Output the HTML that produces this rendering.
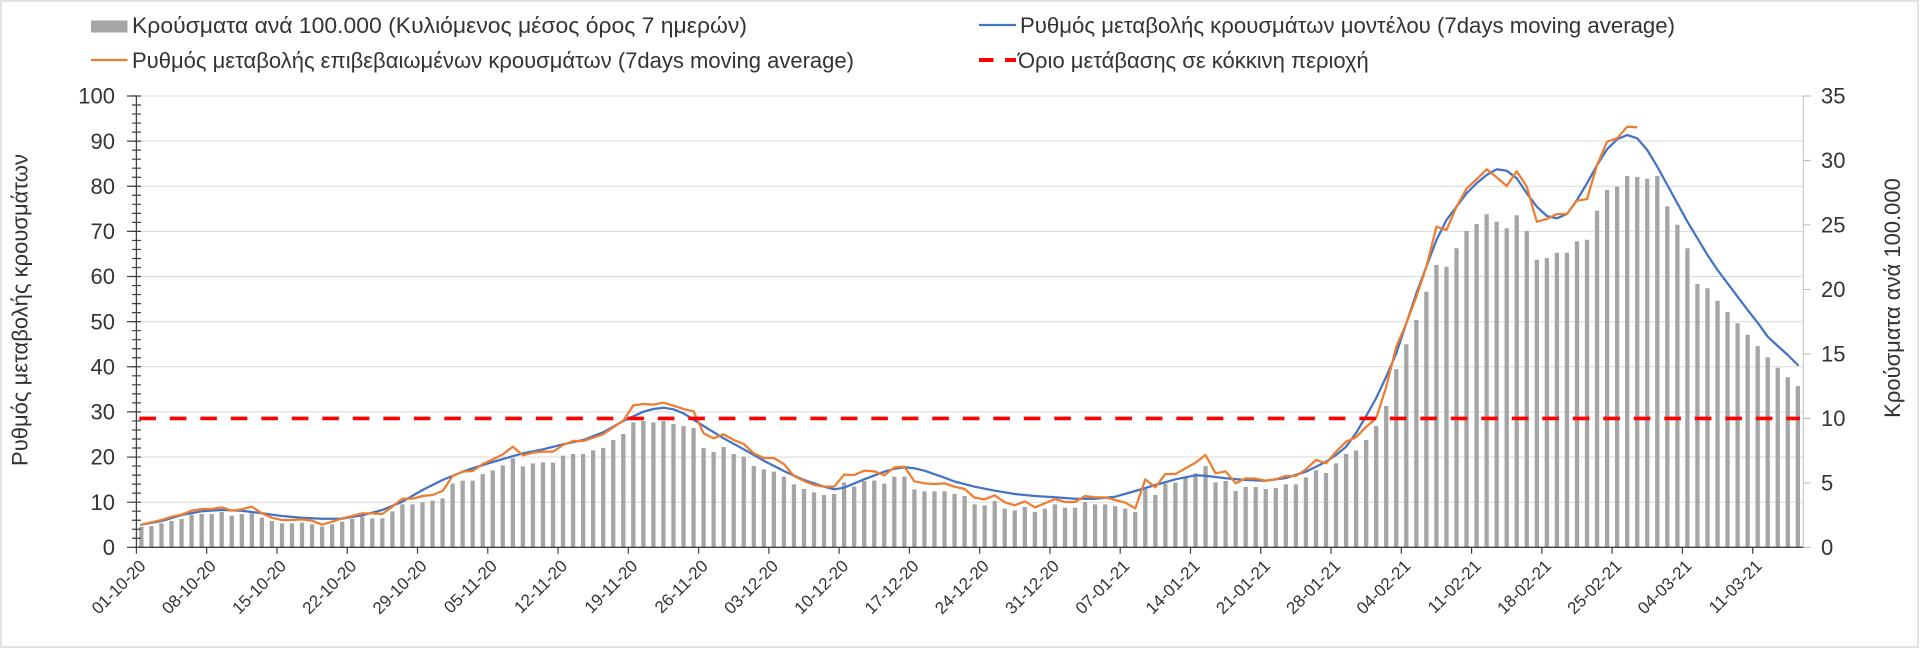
<!DOCTYPE html>
<html>
<head>
<meta charset="utf-8">
<style>
  html,body{margin:0;padding:0;background:#fff;}
  body{width:1920px;height:649px;overflow:hidden;}
  svg{display:block;}
  text{font-family:"Liberation Sans","DejaVu Sans",sans-serif;fill:#333;}
</style>
</head>
<body>
<svg width="1920" height="649" viewBox="0 0 1920 649" xmlns="http://www.w3.org/2000/svg">
  <rect x="0" y="0" width="1920" height="649" fill="#fff"/>
  <rect x="1" y="1" width="1917" height="646" fill="none" stroke="#d9d9d9" stroke-width="1.5"/>

  <!-- Legend -->
  <rect x="91" y="20.5" width="36.5" height="12" fill="#a5a5a5"/>
  <text x="132" y="33" font-size="22" textLength="615" lengthAdjust="spacingAndGlyphs">Κρούσματα ανά 100.000 (Κυλιόμενος μέσος όρος 7 ημερών)</text>
  <line x1="91" y1="60" x2="127.5" y2="60" stroke="#ed7d31" stroke-width="2.25"/>
  <text x="132" y="68" font-size="22" textLength="722" lengthAdjust="spacingAndGlyphs">Ρυθμός μεταβολής επιβεβαιωμένων κρουσμάτων (7days moving average)</text>
  <line x1="979" y1="25" x2="1016" y2="25" stroke="#4472c4" stroke-width="2.25"/>
  <text x="1020" y="33" font-size="22" textLength="655" lengthAdjust="spacingAndGlyphs">Ρυθμός μεταβολής κρουσμάτων μοντέλου (7days moving average)</text>
  <line x1="979" y1="60" x2="993.5" y2="60" stroke="#ff0000" stroke-width="4"/>
  <line x1="1005" y1="60" x2="1016" y2="60" stroke="#ff0000" stroke-width="4"/>
  <text x="1018" y="68" font-size="22">Όριο μετάβασης σε κόκκινη περιοχή</text>

  <!-- Gridlines -->
  <path d="M136.4 96H1803.3M136.4 141.1H1803.3M136.4 186.3H1803.3M136.4 231.4H1803.3M136.4 276.5H1803.3M136.4 321.7H1803.3M136.4 366.8H1803.3M136.4 411.9H1803.3M136.4 457H1803.3M136.4 502.2H1803.3" stroke="#d9d9d9" stroke-width="1" fill="none"/>

  <!-- Bars (zoom-A coordinate space) -->
  <g transform="translate(141.4,390) scale(10.039,0.333333)">
    <path fill="none" stroke="#a5a5a5" stroke-width="4.3" vector-effect="non-scaling-stroke" d="M0 471.9V410M1 471.9V408M2 471.9V400M3 471.9V393M4 471.9V387M5 471.9V374M6 471.9V372M7 471.9V372M8 471.9V366M9 471.9V377M10 471.9V372M11 471.9V370M12 471.9V383M13 471.9V393M14 471.9V400M15 471.9V400M16 471.9V398M17 471.9V403M18 471.9V410M19 471.9V403M20 471.9V395M21 471.9V387M22 471.9V380M23 471.9V385M24 471.9V385M25 471.9V364M26 471.9V343M27 471.9V343M28 471.9V337M29 471.9V332M30 471.9V325M31 471.9V281M32 471.9V272M33 471.9V272M34 471.9V252M35 471.9V241M36 471.9V226M37 471.9V205M38 471.9V229M39 471.9V220M40 471.9V217M41 471.9V218M42 471.9V197M43 471.9V192M44 471.9V192M45 471.9V181M46 471.9V174M47 471.9V150M48 471.9V132M49 471.9V97M50 471.9V93M51 471.9V97M52 471.9V93M53 471.9V102M54 471.9V108M55 471.9V114M56 471.9V174M57 471.9V186M58 471.9V171M59 471.9V192M60 471.9V200M61 471.9V228M62 471.9V238M63 471.9V245M64 471.9V260M65 471.9V283M66 471.9V297M67 471.9V307M68 471.9V315M69 471.9V312M70 471.9V277M71 471.9V290M72 471.9V273M73 471.9V272M74 471.9V281M75 471.9V260M76 471.9V260M77 471.9V298M78 471.9V304M79 471.9V304M80 471.9V304M81 471.9V312M82 471.9V318M83 471.9V343M84 471.9V346M85 471.9V333M86 471.9V356M87 471.9V361M88 471.9V351M89 471.9V366M90 471.9V356M91 471.9V343M92 471.9V353M93 471.9V353M94 471.9V336M95 471.9V343M96 471.9V343M97 471.9V348M98 471.9V356M99 471.9V366M100 471.9V297M101 471.9V315M102 471.9V281M103 471.9V278M104 471.9V263M105 471.9V250M106 471.9V228M107 471.9V277M108 471.9V273M109 471.9V303M110 471.9V291M111 471.9V291M112 471.9V297M113 471.9V294M114 471.9V283M115 471.9V283M116 471.9V262M117 471.9V241M118 471.9V249M119 471.9V220M120 471.9V192M121 471.9V181M122 471.9V150"/>
  </g>
  <!-- Bars (original coordinate space) -->
  <g transform="translate(141.4,0) scale(10.039,1)">
    <path fill="none" stroke="#a5a5a5" stroke-width="4.3" vector-effect="non-scaling-stroke" d="M123 547.3V426M124 547.3V406M125 547.3V369.3M126 547.3V344.3M127 547.3V320M128 547.3V291.7M129 547.3V265M130 547.3V266.7M131 547.3V248.3M132 547.3V231M133 547.3V224M134 547.3V214.3M135 547.3V221.7M136 547.3V228.3M137 547.3V215.3M138 547.3V231M139 547.3V259.7M140 547.3V258M141 547.3V252.7M142 547.3V252.7M143 547.3V241.3M144 547.3V239.7M145 547.3V210.7M146 547.3V190M147 547.3V186.7M148 547.3V176M149 547.3V177M150 547.3V178.7M151 547.3V176M152 547.3V206.3M153 547.3V224.7M154 547.3V248.3M155 547.3V284M156 547.3V288.3M157 547.3V300.7M158 547.3V312M159 547.3V323.3M160 547.3V334.7M161 547.3V346M162 547.3V357.3M163 547.3V367.7M164 547.3V377.3M165 547.3V386"/>
  </g>

  <!-- Blue model line -->
  <g transform="translate(141.4,0) scale(10.039,1)">
    <polyline fill="none" stroke="#4472c4" stroke-width="2.25" stroke-linejoin="round" stroke-linecap="round" vector-effect="non-scaling-stroke" points="0,524.7 2,521 4,515 6,511.3 8,510 10,510.7 12,513.3 14,516 16,517.7 18,518.7 20,518.7 22,515.3 24,510 26,501.7 28,490 30,480 32,471.7 34,465 36,459 38,453.3 40,449.3 42,444.3 44,440 46,432.3 48,421 50,411.7 51,409 52,407.7 53,409.3 54,413.3 56,426 58,438.3 60,449.3 62,460.7 64,471 66,480 68,486.7 69,489.3 70,487.7 72,479.3 74,471.7 75,468.7 76,467.3 77,468.3 78,470.7 80,477.7 81,481.5 83,486.7 85,490.7 87,494 89,496 91,497.3 93,498.7 95,498.7 97,496.7 99,491 101,485 103,479.3 105,475.3 106,475.7 108,478.3 110,480 112,480.7 114,478 116,471.7 118,461.7 119,455 120,446.7 121,433 122,416 123,398 124,376.7 125,353.3 126,323.3 127,293.3 128,266.7 129,240 130,220 131,206.7 132,193.3 133,183.3 134,175 135,169.3 136,170.7 137,178.3 138,193.3 139,206.7 140,216 141,218.3 142,214 143,200 144,183.3 145,165 146,149.3 147,139.3 148,135 149,138.3 150,150 151,166.7 152,185 153,203.3 154,221.7 155,238.3 156,255 157,270 158,283.3 159,296.7 160,310 161,322.7 162,336.7 163,346 164,355 165,365"/>
  </g>

  <!-- Orange confirmed line -->
  <g transform="translate(141.4,390) scale(10.039,0.333333)">
    <polyline fill="none" stroke="#ed7d31" stroke-width="2.25" stroke-linejoin="round" vector-effect="non-scaling-stroke" points="0,404 1,397 2,390 3,380 4,374 5,362 6,357 7,357 8,352 9,362 10,358 11,350 12,370 13,383 14,390 15,390 16,388 17,392 18,404 19,395 20,385 21,378 22,370 23,370 24,372 25,350 26,326 27,326 28,318 29,315 30,303 31,258 32,245 33,243 34,222 35,208 36,193 37,170 38,196 39,188 40,185 41,185 42,165 43,153 44,153 45,143 46,133 47,112 48,92 49,46 50,42 51,44 52,38 53,47 54,57 55,64 56,130 57,145 58,133 59,150 60,162 61,190 62,204 63,204 64,222 65,258 66,273 67,285 68,290 69,290 70,254 71,255 72,242 73,244 74,256 75,232 76,230 77,274 78,280 79,282 80,280 81,290 82,297 83,323 84,328 85,316 86,337 87,346 88,334 89,352 90,340 91,327 92,336 93,336 94,318 95,322 96,322 97,330 98,338 99,355 100,268 101,292 102,252 103,252 104,235 105,218 106,195 107,250 108,244 109,280 110,265 111,266 112,272 113,268 114,258 115,258 116,238 117,210 118,220 119,185 120,155 121,142 122,110"/>
  </g>
  <g transform="translate(141.4,0) scale(10.039,1)">
    <polyline fill="none" stroke="#ed7d31" stroke-width="2.25" stroke-linejoin="round" vector-effect="non-scaling-stroke" points="122,426.7 123,418.3 124,386.7 125,346.7 126,323.3 127,296.7 128,266.7 129,226.7 130,230 131,206.7 132,188.7 133,179.3 134,169.3 135,177.3 136,186 137,171.3 138,186.7 139,221.7 140,219 141,214 142,214 143,200.7 144,199 145,165 146,141.7 147,138.3 148,126.7 149,127.3"/>
  </g>

  <!-- Red threshold -->
  <path d="M139.3 418.4H1800" stroke="#ff0000" stroke-width="3.6" stroke-dasharray="16.6 13.9" fill="none"/>

  <!-- Axes -->
  <path d="M136.4 95.5V547.3" stroke="#404040" stroke-width="1.3" fill="none"/>
  <path d="M136.5 547.9V95" stroke="#404040" stroke-width="9" stroke-dasharray="1.2 7.826" fill="none"/>
  <path d="M132 547.9V95" stroke="#404040" stroke-width="10" stroke-dasharray="1.2 43.93" fill="none"/>
  <path d="M136 547.3H1803.8" stroke="#404040" stroke-width="1.3" fill="none"/>
  <path d="M135.8 550.6H1804" stroke="#404040" stroke-width="6.4" stroke-dasharray="1.2 69.073" fill="none"/>
  <path d="M1803.3 96V547.3" stroke="#bfbfbf" stroke-width="1" fill="none"/>
  <path d="M1807 547.9V95" stroke="#bfbfbf" stroke-width="7.4" stroke-dasharray="1.2 63.27" fill="none"/>

  <!-- Left tick labels -->
  <g font-size="22" text-anchor="end">
    <text x="115" y="103.7">100</text>
    <text x="115" y="148.8">90</text>
    <text x="115" y="194">80</text>
    <text x="115" y="239.1">70</text>
    <text x="115" y="284.2">60</text>
    <text x="115" y="329.4">50</text>
    <text x="115" y="374.5">40</text>
    <text x="115" y="419.6">30</text>
    <text x="115" y="464.7">20</text>
    <text x="115" y="509.9">10</text>
    <text x="115" y="555">0</text>
  </g>
  <!-- Right tick labels -->
  <g font-size="22">
    <text x="1821" y="103.7">35</text>
    <text x="1821" y="168.2">30</text>
    <text x="1821" y="232.7">25</text>
    <text x="1821" y="297.1">20</text>
    <text x="1821" y="361.6">15</text>
    <text x="1821" y="426.1">10</text>
    <text x="1821" y="490.5">5</text>
    <text x="1821" y="555">0</text>
  </g>

  <!-- Axis titles -->
  <text font-size="22" text-anchor="middle" transform="translate(27.5,310) rotate(-90)">Ρυθμός μεταβολής κρουσμάτων</text>
  <text font-size="22" text-anchor="middle" transform="translate(1900,298) rotate(-90)">Κρούσματα ανά 100.000</text>

  <!-- X tick labels -->
  <g font-size="17" text-anchor="end">
    <text transform="translate(146.7,567) rotate(-45)">01-10-20</text>
    <text transform="translate(217,567) rotate(-45)">08-10-20</text>
    <text transform="translate(287.2,567) rotate(-45)">15-10-20</text>
    <text transform="translate(357.5,567) rotate(-45)">22-10-20</text>
    <text transform="translate(427.8,567) rotate(-45)">29-10-20</text>
    <text transform="translate(498.1,567) rotate(-45)">05-11-20</text>
    <text transform="translate(568.3,567) rotate(-45)">12-11-20</text>
    <text transform="translate(638.6,567) rotate(-45)">19-11-20</text>
    <text transform="translate(708.9,567) rotate(-45)">26-11-20</text>
    <text transform="translate(779.2,567) rotate(-45)">03-12-20</text>
    <text transform="translate(849.4,567) rotate(-45)">10-12-20</text>
    <text transform="translate(919.7,567) rotate(-45)">17-12-20</text>
    <text transform="translate(990,567) rotate(-45)">24-12-20</text>
    <text transform="translate(1060.2,567) rotate(-45)">31-12-20</text>
    <text transform="translate(1130.5,567) rotate(-45)">07-01-21</text>
    <text transform="translate(1200.8,567) rotate(-45)">14-01-21</text>
    <text transform="translate(1271.1,567) rotate(-45)">21-01-21</text>
    <text transform="translate(1341.3,567) rotate(-45)">28-01-21</text>
    <text transform="translate(1411.6,567) rotate(-45)">04-02-21</text>
    <text transform="translate(1481.9,567) rotate(-45)">11-02-21</text>
    <text transform="translate(1552.2,567) rotate(-45)">18-02-21</text>
    <text transform="translate(1622.4,567) rotate(-45)">25-02-21</text>
    <text transform="translate(1692.7,567) rotate(-45)">04-03-21</text>
    <text transform="translate(1763,567) rotate(-45)">11-03-21</text>
  </g>
</svg>
</body>
</html>
